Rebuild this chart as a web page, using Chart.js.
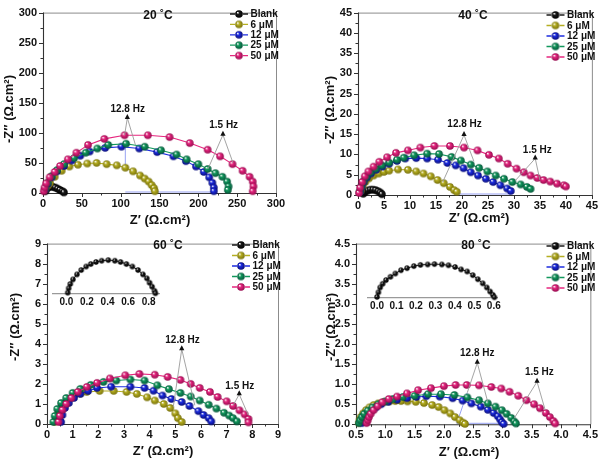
<!DOCTYPE html>
<html><head><meta charset="utf-8">
<script src="https://cdn.jsdelivr.net/npm/chart.js@4.4.1/dist/chart.umd.min.js"></script>
<style>
body{margin:0;background:#fff;width:602px;height:462px;position:relative;overflow:hidden}
canvas{position:absolute;display:block}
</style></head><body>
<canvas id="c1" width="301" height="231" style="left:0;top:0"></canvas>
<canvas id="c2" width="301" height="231" style="left:301px;top:0"></canvas>
<canvas id="c3" width="301" height="231" style="left:0;top:231px"></canvas>
<canvas id="c4" width="301" height="231" style="left:301px;top:231px"></canvas>
<canvas id="i3" width="125" height="60" style="left:45px;top:250px"></canvas>
<canvas id="i4" width="145" height="60" style="left:360px;top:254px"></canvas>
<script>
// ---------- labels ----------
const seriesLabels = ['Blank', '6 μM', '12 μM', '25 μM', '50 μM'];
const tempLabels = ['20 ˚C', '40 ˚C', '60 ˚C', '80 ˚C'];
const xTitle = 'Z′ (Ω.cm²)';
const yTitle = '-Z″ (Ω.cm²)';

// ---------- tick values ----------
const ticks20 = [0, 50, 100, 150, 200, 250, 300];
const ticks40 = [0, 5, 10, 15, 20, 25, 30, 35, 40, 45];
const ticks60 = [0, 1, 2, 3, 4, 5, 6, 7, 8, 9];
const ticks80x = [0.5, 1.0, 1.5, 2.0, 2.5, 3.0, 3.5, 4.0, 4.5];
const ticks80y = [0.0, 0.5, 1.0, 1.5, 2.0, 2.5, 3.0, 3.5, 4.0, 4.5];
const ticksInset60 = [0.0, 0.2, 0.4, 0.6, 0.8];
const ticksInset80 = [0.0, 0.1, 0.2, 0.3, 0.4, 0.5, 0.6];

// ---------- 20 °C ----------
const re20Blank = [3, 4, 6, 8, 10, 13, 16, 19, 22, 25, 27];
const im20Blank = [3, 6, 9, 10, 11, 10, 9, 7, 5, 3, 1];
const re20_6 = [3, 6, 9, 15, 24, 34, 45, 57, 69, 82, 95, 106, 116, 125, 131, 136, 140, 143, 144];
const im20_6 = [6, 12, 17, 27, 37, 44, 47, 49, 50, 48, 46, 42, 36, 29, 24, 19, 13, 8, 3];
const re20_12 = [3, 6, 11, 18, 27, 37, 48, 60, 80, 101, 124, 147, 168, 184, 197, 207, 214, 218, 220, 220];
const im20_12 = [6, 15, 26, 36, 45, 54, 62, 69, 75, 77, 74, 68, 61, 53, 44, 35, 26, 17, 9, 3];
const re20_25 = [3, 6, 11, 18, 27, 40, 55, 70, 84, 107, 131, 152, 172, 185, 200, 212, 222, 231, 237, 239, 238];
const im20_25 = [8, 17, 28, 38, 48, 58, 67, 74, 80, 82, 77, 71, 64, 56, 48, 40, 33, 27, 19, 11, 5];
const re20_50 = [1, 2, 4, 8.6, 15, 22, 32, 43, 58, 79, 105, 135, 163, 189, 212, 228, 244, 257, 266, 270, 271, 270];
const im20_50 = [3, 9, 16, 26, 35, 45, 56, 67, 80, 90, 96, 96, 93, 83, 72, 61, 48, 37, 27, 19, 11, 3];

// ---------- 40 °C ----------
const re40Blank = [1.0, 1.4, 1.9, 2.4, 2.9, 3.4, 3.9, 4.3, 4.6];
const im40Blank = [0.3, 0.8, 1.1, 1.3, 1.3, 1.2, 0.9, 0.6, 0.2];
const re40_6 = [0.5, 0.9, 1.4, 2.1, 3.0, 4.0, 5.0, 6.0, 7.7, 9.6, 11.2, 12.6, 14.0, 15.3, 16.5, 17.7, 18.5, 19.0];
const im40_6 = [1.0, 2.2, 3.2, 4.1, 4.8, 5.3, 5.7, 6.0, 6.3, 6.2, 5.8, 5.3, 4.6, 3.7, 2.9, 2.0, 1.2, 0.8];
const re40_12 = [0.4, 0.7, 1.1, 1.7, 2.5, 3.5, 4.7, 6.0, 7.5, 9.1, 11.2, 13.3, 15.4, 17.2, 18.8, 20.3, 21.7, 23.1, 24.6, 26.0, 27.4, 28.7, 29.4];
const im40_12 = [0.8, 2.0, 3.2, 4.3, 5.3, 6.2, 7.0, 7.7, 8.4, 9.0, 9.1, 9.0, 8.7, 7.9, 7.3, 6.6, 5.6, 4.8, 4.0, 3.2, 2.4, 1.6, 1.0];
const re40_25 = [0.3, 0.6, 1.0, 1.6, 2.4, 3.4, 4.6, 6.0, 7.5, 8.8, 10.8, 13.3, 15.6, 18.0, 19.8, 21.7, 23.3, 24.9, 26.5, 28.1, 29.7, 31.3, 32.5, 33.2];
const im40_25 = [0.8, 2.0, 3.3, 4.5, 5.6, 6.5, 7.3, 8.0, 8.7, 9.2, 9.8, 10.2, 10.1, 9.4, 8.5, 7.5, 6.7, 5.8, 4.8, 4.0, 3.2, 2.6, 2.0, 1.5];
const re40_50 = [0.2, 0.4, 0.8, 1.3, 2.0, 3.0, 4.1, 5.6, 7.3, 9.6, 12.0, 14.7, 17.7, 20.4, 23.0, 25.2, 27.1, 28.8, 30.5, 31.9, 33.2, 34.5, 35.7, 37.0, 38.3, 39.6, 40.0];
const im40_50 = [0.5, 1.8, 3.2, 4.6, 5.8, 7.0, 8.2, 9.3, 10.4, 11.0, 11.7, 12.1, 12.1, 11.7, 11.0, 9.9, 9.0, 7.7, 6.5, 5.6, 4.8, 4.2, 3.7, 3.3, 2.8, 2.4, 2.1];

// ---------- 60 °C ----------
const re60Blank = [0.013, 0.022, 0.038, 0.064, 0.103, 0.144, 0.192, 0.237, 0.288, 0.343, 0.407, 0.471, 0.526, 0.583, 0.641, 0.696, 0.744, 0.782, 0.808, 0.833, 0.856, 0.865];
const im60Blank = [6.32, 6.53, 6.74, 6.96, 7.20, 7.41, 7.58, 7.70, 7.80, 7.86, 7.89, 7.86, 7.80, 7.70, 7.58, 7.41, 7.20, 7.01, 6.80, 6.61, 6.41, 6.29];
const re60_6 = [0.3, 0.35, 0.45, 0.6, 0.8, 1.05, 1.3, 1.55, 2.05, 2.6, 3.1, 3.5, 3.9, 4.2, 4.55, 4.8, 5.0, 5.1, 5.25];
const im60_6 = [0.1, 0.4, 0.7, 0.95, 1.2, 1.4, 1.52, 1.6, 1.65, 1.65, 1.6, 1.5, 1.33, 1.17, 1.0, 0.8, 0.53, 0.29, 0.1];
const re60_12 = [0.55, 0.6, 0.7, 0.85, 1.05, 1.3, 1.6, 1.95, 2.5, 3.25, 3.8, 4.15, 4.5, 4.85, 5.25, 5.55, 5.9, 6.1, 6.3, 6.4];
const im60_12 = [0.1, 0.45, 0.8, 1.05, 1.3, 1.5, 1.65, 1.8, 1.86, 1.86, 1.8, 1.66, 1.42, 1.25, 1.1, 0.9, 0.64, 0.45, 0.29, 0.13];
const re60_25 = [0.25, 0.3, 0.4, 0.55, 0.75, 1.0, 1.3, 1.7, 2.2, 2.7, 3.25, 3.8, 4.3, 4.75, 5.2, 5.6, 5.95, 6.3, 6.6, 6.9, 7.1, 7.25, 7.4];
const im60_25 = [0.1, 0.4, 0.75, 1.05, 1.3, 1.55, 1.75, 1.95, 2.1, 2.17, 2.22, 2.17, 1.93, 1.74, 1.55, 1.37, 1.17, 0.96, 0.77, 0.56, 0.42, 0.29, 0.13];
const re60_50 = [0.45, 0.5, 0.6, 0.75, 0.95, 1.2, 1.55, 1.95, 2.45, 3.05, 3.6, 4.2, 4.7, 5.2, 5.6, 5.95, 6.35, 6.65, 7.0, 7.25, 7.5, 7.7, 7.85, 7.85];
const im60_50 = [0.1, 0.4, 0.7, 1.0, 1.3, 1.6, 1.85, 2.05, 2.27, 2.43, 2.5, 2.46, 2.35, 2.2, 2.0, 1.8, 1.6, 1.35, 1.13, 0.9, 0.68, 0.48, 0.25, 0.08];

// ---------- 80 °C ----------
const re80Blank = [0.0, 0.007, 0.016, 0.029, 0.046, 0.069, 0.094, 0.123, 0.154, 0.189, 0.223, 0.26, 0.295, 0.333, 0.367, 0.401, 0.432, 0.463, 0.492, 0.518, 0.543, 0.564, 0.581, 0.595, 0.603];
const im80Blank = [3.08, 3.19, 3.31, 3.40, 3.49, 3.57, 3.65, 3.73, 3.78, 3.83, 3.86, 3.87, 3.88, 3.87, 3.85, 3.81, 3.75, 3.70, 3.61, 3.51, 3.41, 3.31, 3.21, 3.13, 3.07];
const re80_6 = [0.55, 0.56, 0.58, 0.62, 0.67, 0.73, 0.8, 0.88, 0.97, 1.07, 1.17, 1.27, 1.38, 1.52, 1.66, 1.8, 1.91, 2.01, 2.11, 2.19, 2.27, 2.33, 2.36];
const im80_6 = [0.03, 0.1, 0.18, 0.27, 0.35, 0.42, 0.48, 0.52, 0.55, 0.57, 0.58, 0.58, 0.57, 0.56, 0.53, 0.48, 0.43, 0.35, 0.27, 0.18, 0.1, 0.04, 0.01];
const re80_12 = [0.6, 0.62, 0.65, 0.7, 0.76, 0.84, 0.93, 1.05, 1.2, 1.37, 1.53, 1.7, 1.93, 2.15, 2.32, 2.47, 2.63, 2.75, 2.85, 2.92, 2.96, 2.99, 3.02];
const im80_12 = [0.03, 0.1, 0.18, 0.26, 0.34, 0.42, 0.5, 0.56, 0.61, 0.65, 0.68, 0.7, 0.69, 0.65, 0.59, 0.52, 0.44, 0.36, 0.28, 0.2, 0.12, 0.05, 0.01];
const re80_25 = [0.55, 0.57, 0.6, 0.64, 0.7, 0.78, 0.88, 1.0, 1.13, 1.3, 1.5, 1.73, 1.95, 2.18, 2.4, 2.6, 2.75, 2.88, 2.99, 3.07, 3.15, 3.2, 3.23];
const im80_25 = [0.03, 0.1, 0.18, 0.26, 0.34, 0.42, 0.5, 0.57, 0.63, 0.68, 0.71, 0.75, 0.75, 0.73, 0.67, 0.6, 0.52, 0.44, 0.35, 0.26, 0.16, 0.07, 0.02];
const re80_50 = [0.68, 0.7, 0.72, 0.75, 0.8, 0.87, 0.95, 1.06, 1.2, 1.37, 1.56, 1.78, 2.0, 2.2, 2.39, 2.6, 2.81, 2.98, 3.12, 3.27, 3.41, 3.54, 3.64, 3.74, 3.81, 3.87, 3.9];
const im80_50 = [0.03, 0.1, 0.18, 0.26, 0.35, 0.45, 0.55, 0.63, 0.69, 0.77, 0.85, 0.9, 0.95, 0.98, 0.98, 0.97, 0.93, 0.89, 0.81, 0.71, 0.6, 0.5, 0.4, 0.28, 0.18, 0.08, 0.02];

// ---------- frequency annotations (data coordinates) ----------
const hz20 = [
  {text: '12.8 Hz', at: [109, 140], tip: [108.6, 128], to: [[105, 96], [119, 80]]},
  {text: '1.5 Hz', at: [232.6, 113], tip: [231.7, 100], to: [[212.4, 40], [244.5, 50.6]]}
];
const hz40 = [
  {text: '12.8 Hz', at: [20.5, 17.5], tip: [20.4, 15.3], to: [[16.3, 3.2], [22.3, 8.3]]},
  {text: '1.5 Hz', at: [34.5, 11.1], tip: [34.1, 9.5], to: [[30.3, 3.6], [35.0, 3.7]]}
];
const hz60 = [
  {text: '12.8 Hz', at: [5.28, 4.18], tip: [5.25, 3.83], to: [[4.92, 0.85], [5.76, 0.93]]},
  {text: '1.5 Hz', at: [7.51, 1.9], tip: [7.49, 1.58], to: [[7.25, 0.93], [7.84, 0.45]]}
];
const hz80 = [
  {text: '12.8 Hz', at: [2.57, 1.76], tip: [2.57, 1.58], to: [[2.4, 0.79], [2.75, 0.55]]},
  {text: '1.5 Hz', at: [3.63, 1.29], tip: [3.59, 1.11], to: [[3.2, 0.15], [3.73, 0.35]]}
];
// thin blue fit-guide segments seen in the figure (data coordinates)
const guide20 = [[[106, 80], [106, 44]], [[106, 0], [220, 0]]];
const guide40 = [[[16.3, 3.2], [19.5, 0]], [[19.5, 0], [29.4, 0]]];
const guide60 = [];
const guide80 = [[[2.22, 0], [2.4, 0.79]], [[2.22, 0], [3.05, 0]]];

// ---------- styling ----------
const FONT = "'Liberation Sans', Arial, Helvetica, sans-serif";
const COLORS = ['#1a1a1a', '#b5ae22', '#1c2ce0', '#12985c', '#e6277f'];
const DARKS = ['#000000', '#77700a', '#080c78', '#05553a', '#950a4e'];

function sphere(color, dark, r) {
  const c = document.createElement('canvas');
  const s = Math.ceil(2 * r + 2);
  c.width = s; c.height = s;
  const g = c.getContext('2d');
  const cx = s / 2, cy = s / 2;
  const gr = g.createRadialGradient(cx - r * 0.35, cy - r * 0.4, r * 0.05, cx, cy, r);
  gr.addColorStop(0, '#ffffff');
  gr.addColorStop(0.35, color);
  gr.addColorStop(1, dark);
  g.fillStyle = gr;
  g.beginPath(); g.arc(cx, cy, r, 0, Math.PI * 2); g.fill();
  return c;
}
const SPH = COLORS.map((c, i) => sphere(c, DARKS[i], 3.8));
const SPH_SMALL = sphere(COLORS[0], DARKS[0], 2.7);

function pts(xs, ys) { return xs.map((v, k) => ({x: v, y: ys[k]})); }

function decorPlugin(P) {
  return {
    id: 'decor',
    beforeDatasetsDraw(chart) {
      const {ctx, chartArea: a} = chart;
      const xs = chart.scales.x, ys = chart.scales.y;
      ctx.save();
      ctx.lineWidth = 1;
      ctx.strokeStyle = '#8c8c8c';
      ctx.beginPath();
      ctx.moveTo(a.left, a.top + 0.5); ctx.lineTo(a.right + 0.5, a.top + 0.5);
      ctx.lineTo(a.right + 0.5, a.bottom);
      ctx.stroke();
      ctx.strokeStyle = '#333';
      ctx.lineWidth = 1.1;
      ctx.beginPath();
      ctx.moveTo(a.left + 0.5, a.top); ctx.lineTo(a.left + 0.5, a.bottom + 0.5); ctx.lineTo(a.right + 0.5, a.bottom + 0.5);
      ctx.stroke();
      ctx.lineWidth = 1;
      ctx.beginPath();
      const xt = P.xTicks, yt = P.yTicks;
      xt.forEach((v, i) => {
        const p = Math.round(xs.getPixelForValue(v)) + 0.5;
        ctx.moveTo(p, a.bottom); ctx.lineTo(p, a.bottom + 4);
        if (i < xt.length - 1) {
          const m = Math.round(xs.getPixelForValue((v + xt[i + 1]) / 2)) + 0.5;
          ctx.moveTo(m, a.bottom); ctx.lineTo(m, a.bottom + 2.5);
        }
      });
      yt.forEach((v, i) => {
        const p = Math.round(ys.getPixelForValue(v)) + 0.5;
        ctx.moveTo(a.left - 4, p); ctx.lineTo(a.left, p);
        if (i < yt.length - 1) {
          const m = Math.round(ys.getPixelForValue((v + yt[i + 1]) / 2)) + 0.5;
          ctx.moveTo(a.left - 2.5, m); ctx.lineTo(a.left, m);
        }
      });
      ctx.stroke();
      // faint blue fit guides
      ctx.strokeStyle = 'rgba(60,80,230,0.6)'; ctx.lineWidth = 0.9;
      P.guide.forEach(g => {
        ctx.beginPath();
        ctx.moveTo(xs.getPixelForValue(g[0][0]), ys.getPixelForValue(g[0][1]) - (g[0][1] === 0 ? 1 : 0));
        ctx.lineTo(xs.getPixelForValue(g[1][0]), ys.getPixelForValue(g[1][1]) - (g[1][1] === 0 ? 1 : 0));
        ctx.stroke();
      });
      ctx.restore();
    },
    afterDatasetsDraw(chart) {
      const {ctx} = chart;
      const xs = chart.scales.x, ys = chart.scales.y;
      const X = v => xs.getPixelForValue(v), Y = v => ys.getPixelForValue(v);
      ctx.save();
      P.hz.forEach(h => {
        const tx = X(h.tip[0]), ty = Y(h.tip[1]);
        ctx.strokeStyle = '#9a9a9a'; ctx.lineWidth = 0.9;
        h.to.forEach(t => { ctx.beginPath(); ctx.moveTo(tx, ty + 2); ctx.lineTo(X(t[0]), Y(t[1])); ctx.stroke(); });
        ctx.fillStyle = '#111';
        ctx.beginPath(); ctx.moveTo(tx, ty - 2); ctx.lineTo(tx - 2.6, ty + 3); ctx.lineTo(tx + 2.6, ty + 3); ctx.closePath(); ctx.fill();
        ctx.font = 'bold 10px ' + FONT; ctx.textAlign = 'center'; ctx.textBaseline = 'middle';
        ctx.fillText(h.text, X(h.at[0]), Y(h.at[1]));
      });
      ctx.fillStyle = '#111';
      ctx.font = 'bold 12px ' + FONT; ctx.textAlign = 'center'; ctx.textBaseline = 'middle';
      ctx.fillText(P.temp, P.tempXY[0], P.tempXY[1]);
      chart.data.datasets.forEach((d, i) => {
        const y = P.leg[1] + i * P.leg[2], mx = P.leg[0];
        ctx.strokeStyle = d.borderColor; ctx.lineWidth = 1.3;
        ctx.beginPath(); ctx.moveTo(mx - 9, y); ctx.lineTo(mx - 4, y); ctx.moveTo(mx + 4, y); ctx.lineTo(mx + 9, y); ctx.stroke();
        const im = d.pointStyle;
        ctx.drawImage(im, mx - im.width / 2, y - im.height / 2);
        ctx.fillStyle = '#111'; ctx.font = 'bold 10px ' + FONT; ctx.textAlign = 'left';
        ctx.fillText(d.label, mx + 11.5, y + 0.5);
      });
      ctx.font = 'bold 13px ' + FONT; ctx.textAlign = 'center'; ctx.textBaseline = 'middle';
      ctx.fillText(xTitle, P.xTitleXY[0], P.xTitleXY[1]);
      ctx.translate(P.yTitleXY[0], P.yTitleXY[1]); ctx.rotate(-Math.PI / 2);
      ctx.fillText(yTitle, 0, 0);
      ctx.restore();
    }
  };
}

function mainChart(id, P) {
  const datasets = P.series.map((s, i) => ({
    label: seriesLabels[i], data: pts(s[0], s[1]), showLine: true,
    borderColor: COLORS[i], borderWidth: 1.1, pointStyle: SPH[i], pointRadius: 4,
    order: 10 - i, clip: false
  }));
  const tickFont = {family: FONT, size: 11, weight: 'bold'};
  new Chart(document.getElementById(id), {
    type: 'scatter',
    data: {datasets},
    options: {
      responsive: false, animation: false, events: [], devicePixelRatio: 1,
      layout: {padding: {top: P.top, right: P.right, left: 0, bottom: 0}},
      plugins: {legend: {display: false}, tooltip: {enabled: false}},
      scales: {
        x: {type: 'linear', min: P.xTicks[0], max: P.xTicks[P.xTicks.length - 1],
          afterBuildTicks: sc => { sc.ticks = P.xTicks.map(v => ({value: v})); },
          afterFit: sc => { sc.height = P.xh; },
          grid: {display: false, drawTicks: false}, border: {display: false},
          ticks: {color: '#111', font: tickFont, padding: 4, maxRotation: 0, autoSkip: false,
            callback: v => Number(v).toFixed(P.dec)}},
        y: {type: 'linear', min: P.yTicks[0], max: P.yTicks[P.yTicks.length - 1],
          afterBuildTicks: sc => { sc.ticks = P.yTicks.map(v => ({value: v})); },
          afterFit: sc => { sc.width = P.yw; },
          grid: {display: false, drawTicks: false}, border: {display: false},
          ticks: {color: '#111', font: tickFont, padding: 6, autoSkip: false,
            callback: v => Number(v).toFixed(P.dec)}}
      }
    },
    plugins: [decorPlugin(P)]
  });
}

function insetChart(id, xs, ys, xTicks, xMin, xMax, yMin, yMax, pad, xh) {
  new Chart(document.getElementById(id), {
    type: 'scatter',
    data: {datasets: [{data: pts(xs, ys), showLine: true, borderColor: '#222', borderWidth: 1,
      pointStyle: SPH_SMALL, pointRadius: 3, clip: false}]},
    options: {
      responsive: false, animation: false, events: [], devicePixelRatio: 1,
      layout: {padding: pad},
      plugins: {legend: {display: false}, tooltip: {enabled: false}},
      scales: {
        x: {type: 'linear', min: xMin, max: xMax,
          afterBuildTicks: sc => { sc.ticks = xTicks.map(v => ({value: v})); },
          afterFit: sc => { sc.height = xh; },
          grid: {display: false, drawTicks: false}, border: {display: true, color: '#9a9a9a', width: 1.2},
          ticks: {color: '#111', font: {family: FONT, size: 10, weight: 'bold'}, padding: 3, maxRotation: 0, autoSkip: false,
            callback: v => Number(v).toFixed(1)}},
        y: {type: 'linear', min: yMin, max: yMax, display: false}
      }
    }
  });
}

mainChart('c1', {
  series: [[re20Blank, im20Blank], [re20_6, im20_6], [re20_12, im20_12], [re20_25, im20_25], [re20_50, im20_50]],
  xTicks: ticks20, yTicks: ticks20, dec: 0, top: 6, right: 25, yw: 43, xh: 38,
  hz: hz20, guide: guide20, temp: tempLabels[0], tempXY: [158, 16], leg: [239, 14, 10.4],
  xTitleXY: [160, 220], yTitleXY: [9, 109]
});
mainChart('c2', {
  series: [[re40Blank, im40Blank], [re40_6, im40_6], [re40_12, im40_12], [re40_25, im40_25], [re40_50, im40_50]],
  xTicks: ticks40, yTicks: ticks40, dec: 0, top: 6, right: 9, yw: 57, xh: 36,
  hz: hz40, guide: guide40, temp: tempLabels[1], tempXY: [172, 16], leg: [254.5, 15, 10.5],
  xTitleXY: [178, 218], yTitleXY: [29, 110]
});
mainChart('c3', {
  series: [[[], []], [re60_6, im60_6], [re60_12, im60_12], [re60_25, im60_25], [re60_50, im60_50]],
  xTicks: ticks60, yTicks: ticks60, dec: 0, top: 6, right: 23, yw: 47, xh: 38,
  hz: hz60, guide: guide60, temp: tempLabels[2], tempXY: [168, 15], leg: [241, 14, 10.5],
  xTitleXY: [163, 220], yTitleXY: [15, 96]
});
mainChart('c4', {
  series: [[[], []], [re80_6, im80_6], [re80_12, im80_12], [re80_25, im80_25], [re80_50, im80_50]],
  xTicks: ticks80x, yTicks: ticks80y, dec: 1, top: 7.3, right: 8, yw: 55, xh: 37.7,
  hz: hz80, guide: guide80, temp: tempLabels[3], tempXY: [175, 15], leg: [254.5, 15, 10.5],
  xTitleXY: [168, 221], yTitleXY: [30, 96]
});
insetChart('i3', re60Blank, im60Blank, ticksInset60, -0.13, 0.9, 6.28, 8.0, {left: 8, right: 11, top: 7.8, bottom: 0}, 16.5);
insetChart('i4', re80Blank, im80Blank, ticksInset80, -0.048, 0.62, 3.06, 3.95, {left: 7.7, right: 7.3, top: 7.2, bottom: 0}, 16.3);
</script>
</body></html>
